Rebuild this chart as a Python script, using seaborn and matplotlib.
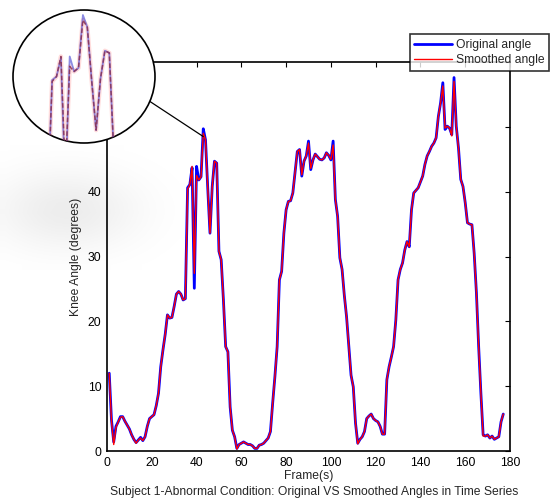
import numpy as np
import pandas as pd
import matplotlib
matplotlib.use("Agg")
import matplotlib.pyplot as plt
from matplotlib.patches import Ellipse, ConnectionPatch
import seaborn as sns

# knee angle per frame (frames 1..177)
frames = list(range(1, 178))
original = [
    12.0, 4.8, 1.4, 3.8, 4.5, 5.3, 5.3, 4.6, 4.0, 3.4,
    2.5, 1.8, 1.3, 1.7, 2.1, 1.6, 2.2, 3.8, 5.0, 5.3,
    5.6, 7.0, 8.9, 13.0, 15.6, 18.0, 21.0, 20.5, 20.6, 22.3,
    24.2, 24.6, 24.2, 23.3, 23.5, 40.6, 41.1, 43.7, 25.1, 43.9,
    41.8, 42.3, 49.7, 48.0, 40.5, 33.6, 40.8, 44.7, 44.4, 30.8,
    29.5, 23.3, 16.1, 15.3, 6.8, 3.2, 2.2, 0.4, 1.0, 1.2,
    1.4, 1.2, 1.0, 1.0, 0.8, 0.4, 0.4, 0.9, 1.0, 1.2,
    1.6, 2.0, 3.0, 7.4, 11.5, 16.1, 26.4, 27.7, 33.6, 37.2,
    38.5, 38.6, 39.8, 43.0, 46.2, 46.5, 42.4, 44.7, 45.5, 47.8,
    43.4, 44.9, 45.8, 45.4, 45.0, 44.9, 45.2, 46.0, 45.6, 44.9,
    47.8, 38.8, 36.2, 29.8, 28.0, 24.0, 20.7, 16.1, 11.7, 9.9,
    4.3, 1.2, 1.8, 2.2, 3.0, 5.0, 5.4, 5.7, 5.0, 4.7,
    4.5, 3.8, 2.6, 2.6, 11.0, 13.0, 14.5, 16.1, 20.2, 26.4,
    28.0, 29.0, 31.0, 32.3, 31.5, 37.2, 39.8, 40.2, 40.6, 41.5,
    42.4, 44.2, 45.5, 46.2, 47.0, 47.5, 48.3, 51.6, 53.7, 56.8,
    49.6, 50.1, 49.8, 48.8, 57.6, 50.1, 46.7, 41.9, 40.8, 38.3,
    35.2, 35.0, 34.9, 30.5, 24.4, 16.1, 8.9, 2.5, 2.3, 2.5,
    2.0, 2.3, 1.8, 2.0, 2.2, 4.5, 5.7,
]
smoothed = [
    12.0, 4.6, 1.0, 3.6, 4.5, 5.2, 5.3, 4.6, 4.0, 3.4,
    2.5, 1.8, 1.2, 1.7, 2.0, 1.6, 2.2, 3.8, 5.0, 5.3,
    5.6, 7.0, 8.9, 13.0, 15.6, 18.0, 21.0, 20.5, 20.6, 22.3,
    24.2, 24.6, 24.2, 23.3, 23.5, 40.4, 41.1, 43.9, 27.4, 42.5,
    41.8, 42.3, 49.0, 48.0, 40.5, 33.6, 40.8, 44.7, 44.4, 30.8,
    29.5, 23.3, 16.1, 15.3, 6.8, 3.2, 2.2, 0.3, 1.0, 1.2,
    1.4, 1.2, 1.0, 1.0, 0.8, 0.4, 0.4, 0.9, 1.0, 1.2,
    1.6, 2.0, 3.0, 7.4, 11.5, 16.1, 26.4, 27.7, 33.6, 37.2,
    38.5, 38.6, 39.8, 43.0, 46.2, 46.5, 42.6, 44.7, 45.5, 47.5,
    43.6, 44.9, 45.8, 45.4, 45.0, 44.9, 45.2, 46.0, 45.6, 45.0,
    47.2, 38.8, 36.2, 29.8, 28.0, 24.0, 20.7, 16.1, 11.7, 9.9,
    4.3, 1.1, 1.8, 2.2, 3.0, 5.0, 5.4, 5.7, 5.0, 4.7,
    4.5, 3.8, 2.6, 2.6, 11.0, 13.0, 14.5, 16.1, 20.2, 26.4,
    28.0, 29.0, 31.0, 32.3, 31.5, 37.2, 39.8, 40.2, 40.6, 41.5,
    42.4, 44.2, 45.5, 46.2, 47.0, 47.5, 48.3, 51.6, 53.7, 56.3,
    49.8, 50.1, 49.8, 48.6, 57.0, 50.1, 46.7, 41.9, 40.8, 38.3,
    35.2, 35.0, 34.9, 30.5, 24.4, 16.1, 8.9, 2.3, 2.3, 2.5,
    2.0, 2.3, 1.8, 2.0, 2.2, 4.5, 5.7,
]

xticks = [0, 20, 40, 60, 80, 100, 120, 140, 160, 180]
yticks = [0, 10, 20, 30, 40, 50, 60]

df = pd.DataFrame({"frame": frames, "original": original, "smoothed": smoothed})

sns.set_style("white")
plt.rcParams['font.family'] = ['Liberation Sans', 'DejaVu Sans']

W, H = 550, 498
fig = plt.figure(figsize=(5.5, 4.98), dpi=100)
ax = fig.add_axes([107 / W, 1 - 451 / H, (510 - 107) / W, (451 - 62) / H])

sns.lineplot(data=df, x="frame", y="original", ax=ax, color="#0000ff", linewidth=2.0,
             label="Original angle", legend=False)
sns.lineplot(data=df, x="frame", y="smoothed", ax=ax, color="#ff0000", linewidth=1.0,
             label="Smoothed angle", legend=False)

ax.set_xlim(0, 180)
ax.set_ylim(0, 60)
ax.set_xticks(xticks)
ax.set_yticks(yticks)
ax.tick_params(direction="in", top=True, right=True, length=3.5, width=0.8,
               labelsize=8.7, pad=4, colors="black")
for s in ax.spines.values():
    s.set_linewidth(1.2)
    s.set_color("black")
ax.set_xlabel("Frame(s)", fontsize=8.7, labelpad=1)
ax.set_ylabel("Knee Angle (degrees)", fontsize=8.7, labelpad=4)

fig.text(314 / W, 1 - 492 / H,
         "Subject 1-Abnormal Condition: Original VS Smoothed Angles in Time Series",
         ha="center", va="center", fontsize=8.7)

handles, labels = ax.get_legend_handles_labels()
leg = fig.legend(handles, labels, loc="upper right", bbox_to_anchor=(549 / W, 1 - 34 / H),
                 fontsize=8.7, frameon=True, fancybox=False, borderaxespad=0,
                 handlelength=3.1, borderpad=0.4, labelspacing=0.3, handletextpad=0.3)
leg.get_frame().set_edgecolor("black")
leg.get_frame().set_linewidth(1.2)
leg.set_zorder(20)

# soft grey shadow on the left
sh = fig.add_axes([0, 1 - 270 / H, 185 / W, 125 / H], zorder=3)
gy, gx = np.mgrid[0:12, 0:18]
blob = np.exp(-(((gx - 6.0) / 7.0) ** 2 + ((gy - 5.8) / 3.8) ** 2))
rgba = np.zeros((12, 18, 4))
rgba[..., 3] = 0.075 * blob
sh.imshow(rgba, interpolation="bilinear", aspect="auto")
sh.axis("off")

# magnifier circle
ins = fig.add_axes([13 / W, 1 - 143 / H, 142 / W, 133 / H], zorder=10)
ins.set_xlim(27.1, 59.4)
ins.set_ylim(31.8, 50.4)
ins.axis("off")
circ = Ellipse((0.5, 0.5), 1, 1, transform=ins.transAxes, facecolor="white",
               edgecolor="black", linewidth=1.2, zorder=1, clip_on=False)
ins.add_patch(circ)
l1 = ins.plot(df["frame"], df["smoothed"], color="#ff6060", lw=3.2, alpha=0.22, zorder=2)[0]
l2 = ins.plot(df["frame"], df["original"], color="#4040d0", lw=1.3, alpha=0.6, zorder=3)[0]
l3 = ins.plot(df["frame"], df["smoothed"], color="#8a3050", lw=1.1, ls=(0, (3, 1.5)), alpha=0.85, zorder=4)[0]
for ln in (l1, l2, l3):
    ln.set_clip_path(circ)

ang = np.deg2rad(-22)
con = ConnectionPatch(xyA=(0.5 + 0.5 * np.cos(ang), 0.5 + 0.5 * np.sin(ang)), coordsA=ins.transAxes,
                      xyB=(43, 48.5), coordsB=ax.transData, color="black", lw=0.9)
fig.add_artist(con)

fig.savefig("out.png", dpi=100)
